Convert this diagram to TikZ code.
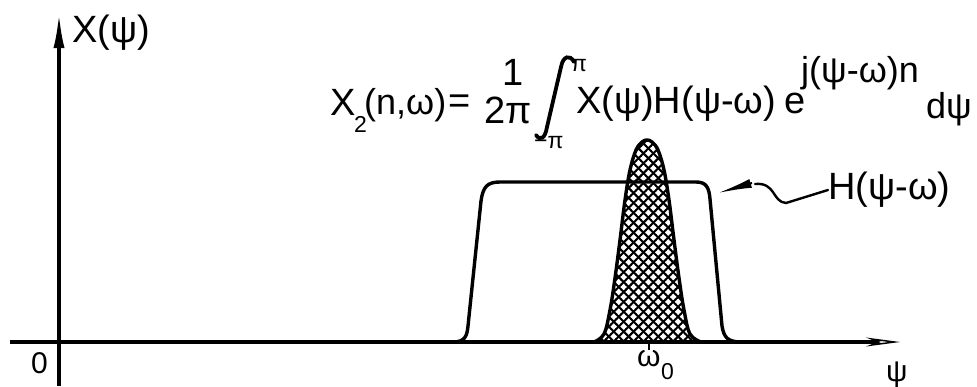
\documentclass[tikz,border=0pt]{standalone}
\usepackage{fontspec}
\setmainfont{Liberation Sans}
\usetikzlibrary{arrows.meta,patterns.meta}
\tikzdeclarepattern{
  name=xhatch, type=uncolored,
  bounding box={(-0.5pt,-0.5pt) and (7.5pt,7.5pt)},
  tile size={(7pt,7pt)},
  tile transformation={rotate=45},
  code={\draw[line width=2pt] (-0.5pt,3.5pt) -- (7.5pt,3.5pt) (3.5pt,-0.5pt) -- (3.5pt,7.5pt);}
}
\begin{document}
\begin{tikzpicture}[x=1pt,y=-1pt,
  big/.style={font=\fontsize{38}{42}\selectfont, inner sep=0pt, anchor=base west},
  med/.style={font=\fontsize{36}{40}\selectfont, inner sep=0pt, anchor=base west},
  mid/.style={font=\fontsize{30}{32}\selectfont, inner sep=0pt, anchor=base west},
  small/.style={font=\fontsize{23}{26}\selectfont, inner sep=0pt, anchor=base west},
  axisline/.style={line width=3.6pt},
  curve/.style={line width=3.4pt, line join=round, line cap=round}]
\useasboundingbox (0,0) rectangle (977,386);
% axes
\coordinate (vb) at (59,386);
\coordinate (vt) at (59,12);
\coordinate (hl) at (10,342);
\coordinate (hr) at (900,342);
\draw[axisline, -{Latex[length=36pt,width=11pt]}] (vb) -- (vt);
\draw[axisline, -{Stealth[open,length=34pt,width=9pt,line width=1.5pt]}] (hl) -- (hr);
% labels on axes
\node[big] (xlab) at (72,42) {X(ψ)};
\node[mid] (zero) at (31,373) {0};
\node[mid] (psilab) at (886,381) {ψ};
\node[mid] (om) at (637,366) {ω};
\node[small] (omsub) at (661,379) {0};
\coordinate (tk1) at (649,342);
\coordinate (tk2) at (649,350);
\draw[line width=1.5pt] (tk1) -- (tk2);
% filter H
\draw[curve] (445,342) -- (453,342) .. controls (465,342) and (467,336) .. (468,326)
  -- (481,201) .. controls (483,187) and (487,182) .. (500,182) -- (696,182)
  .. controls (706,182) and (709,187) .. (710,199) -- (722,326)
  .. controls (724,338) and (728,342) .. (742,342);
% gaussian
\draw[curve, pattern=xhatch, pattern color=black] plot[smooth, tension=0.6] coordinates {
 (594,342) (604,334) (610,310) (615,278) (620,240) (625,200) (630,170) (636,150) (642,142) (647,140)
 (652,142) (658,150) (664,170) (669,200) (674,240) (679,278) (684,310) (690,334) (701,342)} -- cycle;
% formula
\node[big] (fx) at (330,115) {X};
\node[small] (f2) at (354,132) {2};
\node[med] (fnw) at (364,114) {(n,ω)};
\node[big] (feq) at (448,113) {=};
\node[big, anchor=base] (fone) at (513,85) {1};
\node[big, anchor=base] (ftwopi) at (508,123) {2π};
\coordinate (i1) at (574,62);
\coordinate (i2) at (536,135);
\draw[line width=3.8pt, line cap=round] (i1) .. controls (570,54) and (563,56) .. (561,67)
  -- (547,127) .. controls (545,139) and (540,141) .. (i2);
\node[small] (fup) at (571,71) {π};
\node[small] (flow) at (534,148) {−π};
\node[big] (fmain) at (576,113) {X(ψ)H(ψ-ω)};
\node[big] (fe) at (784,113) {e};
\node[med] (fsup) at (801,82) {j(ψ-ω)n};
\node[med] (fd) at (926,118) {dψ};
% H label with pointer
\node[big, anchor=west] (hlab) at (828,190) {H(ψ-ω)};
\coordinate (pt) at (718,193);
\coordinate (pb) at (752,183);
\draw[line width=2pt, -{Latex[length=34pt,width=9pt]}] (pb) -- (pt);
\draw[line width=2.4pt, line cap=round] (hlab.west) -- (786,203)
  .. controls (772,202) and (776,182) .. (755,184);
\end{tikzpicture}
\end{document}
